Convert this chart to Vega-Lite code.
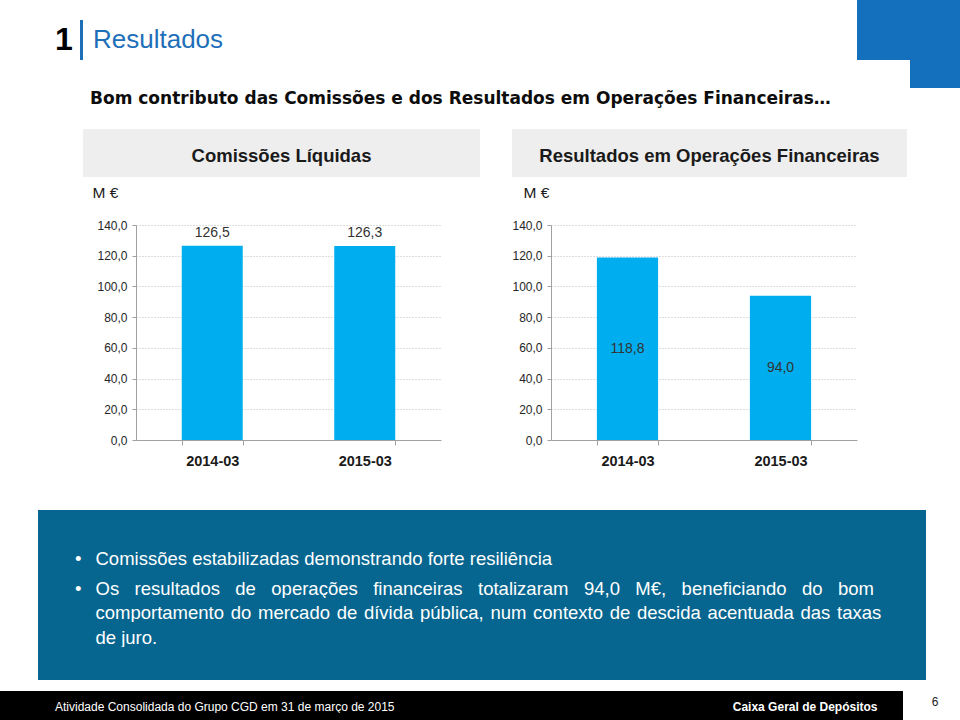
{
 "$schema": "https://vega.github.io/schema/vega-lite/v6.json",
 "background": "white",
 "padding": 0,
 "data": {"values": []},
 "columns": 12,
 "spacing": 0,
 "align": "each",
 "bounds": "flush",
 "config": {
  "view": {"stroke": null},
  "locale": {"number": {"decimal": ",", "thousands": ".", "grouping": [3], "currency": ["", " €"]}}
 },
 "concat": [
  {"width":1,"height":20,"mark":{"type":"text","text":""}},
  {"width":1,"height":1,"mark":{"type":"text","text":""}},
  {"width":1,"height":1,"mark":{"type":"text","text":""}},
  {"width":1,"height":1,"mark":{"type":"text","text":""}},
  {"width":1,"height":1,"mark":{"type":"text","text":""}},
  {"width":1,"height":1,"mark":{"type":"text","text":""}},
  {"width":1,"height":1,"mark":{"type":"text","text":""}},
  {"width":1,"height":1,"mark":{"type":"text","text":""}},
  {"width":1,"height":1,"mark":{"type":"text","text":""}},
  {"width":41,"height":20,"view":{"fill":"#1470BD"},"mark":{"type":"text","text":""}},
  {"width":12,"height":20,"view":{"fill":"#1470BD"},"mark":{"type":"text","text":""}},
  {"width":50,"height":20,"view":{"fill":"#1470BD"},"mark":{"type":"text","text":""}},

  {"width":1,"height":40,"mark":{"type":"text","text":""}},
  {"width":34,"height":40,"data":{"values":[{"t":"1"}]},"mark":{"type":"text","font":"Liberation Sans","fontSize":32,"fontWeight":"bold","color":"#000000","align":"left"},"encoding":{"text":{"field":"t"}}},
  {"width":1,"height":1,"mark":{"type":"text","text":""}},
  {"width":3,"height":40,"view":{"fill":"#1E6FB8"},"mark":{"type":"text","text":""}},
  {"width":20,"height":40,"data":{"values":[{"t":"Resultados"}]},"mark":{"type":"text","font":"Liberation Sans","fontSize":26,"color":"#1E6FB8","align":"left"},"encoding":{"text":{"field":"t"}}},
  {"width":1,"height":1,"mark":{"type":"text","text":""}},
  {"width":1,"height":1,"mark":{"type":"text","text":""}},
  {"width":1,"height":1,"mark":{"type":"text","text":""}},
  {"width":1,"height":1,"mark":{"type":"text","text":""}},
  {"width":41,"height":40,"view":{"fill":"#1470BD"},"mark":{"type":"text","text":""}},
  {"width":12,"height":40,"view":{"fill":"#1470BD"},"mark":{"type":"text","text":""}},
  {"width":50,"height":40,"view":{"fill":"#1470BD"},"mark":{"type":"text","text":""}},

  {"width":1,"height":28,"mark":{"type":"text","text":""}},
  {"width":1,"height":1,"mark":{"type":"text","text":""}},
  {"width":1,"height":1,"mark":{"type":"text","text":""}},
  {"width":1,"height":1,"mark":{"type":"text","text":""}},
  {"width":1,"height":1,"mark":{"type":"text","text":""}},
  {"width":1,"height":1,"mark":{"type":"text","text":""}},
  {"width":1,"height":1,"mark":{"type":"text","text":""}},
  {"width":1,"height":1,"mark":{"type":"text","text":""}},
  {"width":1,"height":1,"mark":{"type":"text","text":""}},
  {"width":1,"height":1,"mark":{"type":"text","text":""}},
  {"width":1,"height":1,"mark":{"type":"text","text":""}},
  {"width":50,"height":28,"view":{"fill":"#1470BD"},"mark":{"type":"text","text":""}},

  {"width":1,"height":22,"mark":{"type":"text","text":""}},
  {"width":1,"height":1,"mark":{"type":"text","text":""}},
  {"width":1,"height":1,"mark":{"type":"text","text":""}},
  {"width":1,"height":1,"mark":{"type":"text","text":""}},
  {"width":14,"height":22,"data":{"values":[{"t":"Bom contributo das Comissões e dos Resultados em Operações Financeiras…"}]},"mark":{"type":"text","font":"DejaVu Sans","fontSize":17,"fontWeight":"bold","color":"#0d0d0d","align":"left"},"encoding":{"text":{"field":"t"}}},
  {"width":1,"height":1,"mark":{"type":"text","text":""}},
  {"width":1,"height":1,"mark":{"type":"text","text":""}},
  {"width":1,"height":1,"mark":{"type":"text","text":""}},
  {"width":1,"height":1,"mark":{"type":"text","text":""}},
  {"width":1,"height":1,"mark":{"type":"text","text":""}},
  {"width":1,"height":1,"mark":{"type":"text","text":""}},
  {"width":1,"height":1,"mark":{"type":"text","text":""}},

  {"width":1,"height":19,"mark":{"type":"text","text":""}},
  {"width":1,"height":1,"mark":{"type":"text","text":""}},
  {"width":1,"height":1,"mark":{"type":"text","text":""}},
  {"width":1,"height":1,"mark":{"type":"text","text":""}},
  {"width":1,"height":1,"mark":{"type":"text","text":""}},
  {"width":1,"height":1,"mark":{"type":"text","text":""}},
  {"width":1,"height":1,"mark":{"type":"text","text":""}},
  {"width":1,"height":1,"mark":{"type":"text","text":""}},
  {"width":1,"height":1,"mark":{"type":"text","text":""}},
  {"width":1,"height":1,"mark":{"type":"text","text":""}},
  {"width":1,"height":1,"mark":{"type":"text","text":""}},
  {"width":1,"height":1,"mark":{"type":"text","text":""}},

  {"width":1,"height":36,"mark":{"type":"text","text":""}},
  {"width":1,"height":1,"mark":{"type":"text","text":""}},
  {"width":1,"height":1,"mark":{"type":"text","text":""}},
  {"width":1,"height":1,"mark":{"type":"text","text":""}},
  {"width":25,"height":36,"view":{"fill":"#EEEEEE"},"mark":{"type":"text","text":""}},
  {"width":28,"height":36,"view":{"fill":"#EEEEEE"},"mark":{"type":"text","text":""}},
  {"width":344,"height":36,"view":{"fill":"#EEEEEE"},"mark":{"type":"text","text":""}},
  {"width":39,"height":36,"view":{"fill":"#EEEEEE"},"mark":{"type":"text","text":""}},
  {"width":306,"height":36,"view":{"fill":"#EEEEEE"},"mark":{"type":"text","text":""}},
  {"width":41,"height":36,"view":{"fill":"#EEEEEE"},"mark":{"type":"text","text":""}},
  {"width":9,"height":36,"view":{"fill":"#EEEEEE"},"mark":{"type":"text","text":""}},
  {"width":1,"height":1,"mark":{"type":"text","text":""}},

  {"width":1,"height":1,"mark":{"type":"text","text":""}},
  {"width":1,"height":1,"mark":{"type":"text","text":""}},
  {"width":1,"height":1,"mark":{"type":"text","text":""}},
  {"width":1,"height":1,"mark":{"type":"text","text":""}},
  {"width":25,"height":1,"view":{"fill":"#EEEEEE"},"mark":{"type":"text","text":""}},
  {"width":28,"height":1,"view":{"fill":"#EEEEEE"},"mark":{"type":"text","text":""}},
  {"width":344,"height":1,"view":{"fill":"#EEEEEE"},"data":{"values":[{"t":"Comissões Líquidas"}]},"mark":{"type":"text","font":"Liberation Sans","fontSize":18.5,"fontWeight":"bold","color":"#1a1a1a","baseline":"bottom","dx":-26.5},"encoding":{"text":{"field":"t"}}},
  {"width":39,"height":1,"view":{"fill":"#EEEEEE"},"mark":{"type":"text","text":""}},
  {"width":306,"height":1,"view":{"fill":"#EEEEEE"},"data":{"values":[{"t":"Resultados em Operações Financeiras"}]},"mark":{"type":"text","font":"Liberation Sans","fontSize":18.5,"fontWeight":"bold","color":"#1a1a1a","baseline":"bottom","dx":5.5},"encoding":{"text":{"field":"t"}}},
  {"width":41,"height":1,"view":{"fill":"#EEEEEE"},"mark":{"type":"text","text":""}},
  {"width":9,"height":1,"view":{"fill":"#EEEEEE"},"mark":{"type":"text","text":""}},
  {"width":1,"height":1,"mark":{"type":"text","text":""}},

  {"width":1,"height":11,"mark":{"type":"text","text":""}},
  {"width":1,"height":1,"mark":{"type":"text","text":""}},
  {"width":1,"height":1,"mark":{"type":"text","text":""}},
  {"width":1,"height":1,"mark":{"type":"text","text":""}},
  {"width":25,"height":11,"view":{"fill":"#EEEEEE"},"mark":{"type":"text","text":""}},
  {"width":28,"height":11,"view":{"fill":"#EEEEEE"},"mark":{"type":"text","text":""}},
  {"width":344,"height":11,"view":{"fill":"#EEEEEE"},"mark":{"type":"text","text":""}},
  {"width":39,"height":11,"view":{"fill":"#EEEEEE"},"mark":{"type":"text","text":""}},
  {"width":306,"height":11,"view":{"fill":"#EEEEEE"},"mark":{"type":"text","text":""}},
  {"width":41,"height":11,"view":{"fill":"#EEEEEE"},"mark":{"type":"text","text":""}},
  {"width":9,"height":11,"view":{"fill":"#EEEEEE"},"mark":{"type":"text","text":""}},
  {"width":1,"height":1,"mark":{"type":"text","text":""}},

  {"width":1,"height":48,"mark":{"type":"text","text":""}},
  {"width":1,"height":1,"mark":{"type":"text","text":""}},
  {"width":1,"height":1,"mark":{"type":"text","text":""}},
  {"width":1,"height":1,"mark":{"type":"text","text":""}},
  {"width":1,"height":1,"mark":{"type":"text","text":""}},
  {"width":1,"height":1,"mark":{"type":"text","text":""}},
  {"width":1,"height":1,"mark":{"type":"text","text":""}},
  {"width":1,"height":1,"mark":{"type":"text","text":""}},
  {"width":1,"height":1,"mark":{"type":"text","text":""}},
  {"width":1,"height":1,"mark":{"type":"text","text":""}},
  {"width":1,"height":1,"mark":{"type":"text","text":""}},
  {"width":1,"height":1,"mark":{"type":"text","text":""}},

  {"width":1,"height":215,"mark":{"type":"text","text":""}},
  {"width":1,"height":1,"mark":{"type":"text","text":""}},
  {"width":1,"height":1,"mark":{"type":"text","text":""}},
  {"width":1,"height":1,"mark":{"type":"text","text":""}},
  {"width":1,"height":1,"mark":{"type":"text","text":""}},
  {"width":1,"height":1,"mark":{"type":"text","text":""}},
  {
   "width":305,"height":215,
   "data":{"values":[{"period":"2014-03","value":126.5},{"period":"2015-03","value":126.3}]},
   "encoding":{
    "x":{"field":"period","type":"nominal","scale":{"paddingInner":0.6,"paddingOuter":0.3},
     "axis":{"title":null,"labelAngle":0,"labelFont":"Liberation Sans","labelFontSize":14.5,"labelFontWeight":"bold","labelColor":"#1a1a1a","labelPadding":9,"tickBand":"extent","ticks":true,"tickSize":5,"tickColor":"#a0a0a0","domainColor":"#a0a0a0","grid":false}},
    "y":{"field":"value","type":"quantitative","scale":{"domain":[0,140],"nice":false},
     "axis":{"title":"M €","titleAngle":0,"titleAlign":"left","titleBaseline":"middle","titleX":-44,"titleY":-33,"titleFont":"Liberation Sans","titleFontSize":15.5,"titleFontWeight":"normal","titleColor":"#1a1a1a","labelFont":"Liberation Sans","labelFontSize":12,"labelColor":"#262626","labelPadding":5,"tickSize":4,"tickColor":"#a0a0a0","domainColor":"#a0a0a0","tickCount":7,"format":".1f","grid":true,"gridColor":"#bdbdbd","gridDash":[1,2]}}
   },
   "layer":[
    {"mark":{"type":"bar","color":"#00AEEF"}},
    {"mark":{"type":"text","dy":-13,"font":"Liberation Sans","fontSize":14,"color":"#333333"},"encoding":{"text":{"field":"value","type":"quantitative","format":".1f"}}}
   ]
  },
  {"width":1,"height":1,"mark":{"type":"text","text":""}},
  {
   "width":306,"height":215,
   "data":{"values":[{"period":"2014-03","value":118.8},{"period":"2015-03","value":94.0}]},
   "encoding":{
    "x":{"field":"period","type":"nominal","scale":{"paddingInner":0.6,"paddingOuter":0.3},
     "axis":{"title":null,"labelAngle":0,"labelFont":"Liberation Sans","labelFontSize":14.5,"labelFontWeight":"bold","labelColor":"#1a1a1a","labelPadding":9,"tickBand":"extent","ticks":true,"tickSize":5,"tickColor":"#a0a0a0","domainColor":"#a0a0a0","grid":false}}
   },
   "layer":[
    {"mark":{"type":"bar","color":"#00AEEF"},
     "encoding":{"y":{"field":"value","type":"quantitative","scale":{"domain":[0,140],"nice":false},
      "axis":{"title":"M €","titleAngle":0,"titleAlign":"left","titleBaseline":"middle","titleX":-28,"titleY":-33,"titleFont":"Liberation Sans","titleFontSize":15.5,"titleFontWeight":"normal","titleColor":"#1a1a1a","labelFont":"Liberation Sans","labelFontSize":12,"labelColor":"#262626","labelPadding":5,"tickSize":4,"tickColor":"#a0a0a0","domainColor":"#a0a0a0","tickCount":7,"format":".1f","grid":true,"gridColor":"#bdbdbd","gridDash":[1,2]}}}},
    {"mark":{"type":"text","font":"Liberation Sans","fontSize":14,"color":"#333333"},
     "encoding":{"y":{"field":"value","type":"quantitative","scale":{"domain":[0,280],"nice":false},"axis":null},
      "text":{"field":"value","type":"quantitative","format":".1f"}}}
   ],
   "resolve":{"scale":{"y":"independent"}}
  },
  {"width":1,"height":1,"mark":{"type":"text","text":""}},
  {"width":1,"height":1,"mark":{"type":"text","text":""}},
  {"width":1,"height":1,"mark":{"type":"text","text":""}},

  {"width":1,"height":70,"mark":{"type":"text","text":""}},
  {"width":1,"height":1,"mark":{"type":"text","text":""}},
  {"width":1,"height":1,"mark":{"type":"text","text":""}},
  {"width":1,"height":1,"mark":{"type":"text","text":""}},
  {"width":1,"height":1,"mark":{"type":"text","text":""}},
  {"width":1,"height":1,"mark":{"type":"text","text":""}},
  {"width":1,"height":1,"mark":{"type":"text","text":""}},
  {"width":1,"height":1,"mark":{"type":"text","text":""}},
  {"width":1,"height":1,"mark":{"type":"text","text":""}},
  {"width":1,"height":1,"mark":{"type":"text","text":""}},
  {"width":1,"height":1,"mark":{"type":"text","text":""}},
  {"width":1,"height":1,"mark":{"type":"text","text":""}},

  {"width":38,"height":58,"mark":{"type":"text","text":""}},
  {"width":34,"height":58,"view":{"fill":"#06668F"},"mark":{"type":"text","text":""}},
  {"width":8,"height":58,"view":{"fill":"#06668F"},"mark":{"type":"text","text":""}},
  {"width":3,"height":58,"view":{"fill":"#06668F"},"mark":{"type":"text","text":""}},
  {"width":25,"height":58,"view":{"fill":"#06668F"},"mark":{"type":"text","text":""}},
  {"width":28,"height":58,"view":{"fill":"#06668F"},"mark":{"type":"text","text":""}},
  {"width":376,"height":58,"view":{"fill":"#06668F"},"mark":{"type":"text","text":""}},
  {"width":39,"height":58,"view":{"fill":"#06668F"},"mark":{"type":"text","text":""}},
  {"width":306,"height":58,"view":{"fill":"#06668F"},"mark":{"type":"text","text":""}},
  {"width":41,"height":58,"view":{"fill":"#06668F"},"mark":{"type":"text","text":""}},
  {"width":12,"height":58,"view":{"fill":"#06668F"},"mark":{"type":"text","text":""}},
  {"width":16,"height":58,"view":{"fill":"#06668F"},"mark":{"type":"text","text":""}},

  {"width":1,"height":1,"mark":{"type":"text","text":""}},
  {"width":34,"height":1,"view":{"fill":"#06668F"},"mark":{"type":"text","text":""}},
  {"width":8,"height":1,"view":{"fill":"#06668F"},"mark":{"type":"text","text":""}},
  {"width":3,"height":1,"view":{"fill":"#06668F"},"data":{"values":[{"t":"•"}]},"mark":{"type":"text","font":"Liberation Sans","fontSize":18.5,"color":"#ffffff","align":"right","baseline":"bottom"},"encoding":{"text":{"field":"t"}}},
  {"width":25,"height":1,"view":{"fill":"#06668F"},"data":{"values":[{"t":"Comissões estabilizadas demonstrando forte resiliência"}]},"mark":{"type":"text","font":"Liberation Sans","fontSize":18.5,"color":"#ffffff","align":"left","baseline":"bottom"},"encoding":{"text":{"field":"t"}}},
  {"width":28,"height":1,"view":{"fill":"#06668F"},"mark":{"type":"text","text":""}},
  {"width":376,"height":1,"view":{"fill":"#06668F"},"mark":{"type":"text","text":""}},
  {"width":39,"height":1,"view":{"fill":"#06668F"},"mark":{"type":"text","text":""}},
  {"width":306,"height":1,"view":{"fill":"#06668F"},"mark":{"type":"text","text":""}},
  {"width":41,"height":1,"view":{"fill":"#06668F"},"mark":{"type":"text","text":""}},
  {"width":12,"height":1,"view":{"fill":"#06668F"},"mark":{"type":"text","text":""}},
  {"width":16,"height":1,"view":{"fill":"#06668F"},"mark":{"type":"text","text":""}},

  {"width":38,"height":29,"mark":{"type":"text","text":""}},
  {"width":34,"height":29,"view":{"fill":"#06668F"},"mark":{"type":"text","text":""}},
  {"width":8,"height":29,"view":{"fill":"#06668F"},"mark":{"type":"text","text":""}},
  {"width":3,"height":29,"view":{"fill":"#06668F"},"mark":{"type":"text","text":""}},
  {"width":25,"height":29,"view":{"fill":"#06668F"},"mark":{"type":"text","text":""}},
  {"width":28,"height":29,"view":{"fill":"#06668F"},"mark":{"type":"text","text":""}},
  {"width":376,"height":29,"view":{"fill":"#06668F"},"mark":{"type":"text","text":""}},
  {"width":39,"height":29,"view":{"fill":"#06668F"},"mark":{"type":"text","text":""}},
  {"width":306,"height":29,"view":{"fill":"#06668F"},"mark":{"type":"text","text":""}},
  {"width":41,"height":29,"view":{"fill":"#06668F"},"mark":{"type":"text","text":""}},
  {"width":12,"height":29,"view":{"fill":"#06668F"},"mark":{"type":"text","text":""}},
  {"width":16,"height":29,"view":{"fill":"#06668F"},"mark":{"type":"text","text":""}},

  {"width":1,"height":1,"mark":{"type":"text","text":""}},
  {"width":34,"height":1,"view":{"fill":"#06668F"},"mark":{"type":"text","text":""}},
  {"width":8,"height":1,"view":{"fill":"#06668F"},"mark":{"type":"text","text":""}},
  {"width":3,"height":1,"view":{"fill":"#06668F"},"data":{"values":[{"t":"•"}]},"mark":{"type":"text","font":"Liberation Sans","fontSize":18.5,"color":"#ffffff","align":"right","baseline":"bottom"},"encoding":{"text":{"field":"t"}}},
  {"width":25,"height":1,"view":{"fill":"#06668F"},"data":{"values":[{"t":"Os\u00a0\u00a0\u00a0resultados\u00a0\u00a0\u00a0de\u00a0\u00a0\u00a0operações\u00a0\u00a0\u00a0financeiras\u00a0\u00a0\u00a0totalizaram\u00a0\u00a0\u00a094,0\u00a0\u00a0\u00a0M€,\u00a0\u00a0\u00a0beneficiando\u00a0\u00a0\u00a0do\u00a0\u00a0\u00a0bom"}]},"mark":{"type":"text","font":"Liberation Sans","fontSize":18.5,"color":"#ffffff","align":"left","baseline":"bottom"},"encoding":{"text":{"field":"t"}}},
  {"width":28,"height":1,"view":{"fill":"#06668F"},"mark":{"type":"text","text":""}},
  {"width":376,"height":1,"view":{"fill":"#06668F"},"mark":{"type":"text","text":""}},
  {"width":39,"height":1,"view":{"fill":"#06668F"},"mark":{"type":"text","text":""}},
  {"width":306,"height":1,"view":{"fill":"#06668F"},"mark":{"type":"text","text":""}},
  {"width":41,"height":1,"view":{"fill":"#06668F"},"mark":{"type":"text","text":""}},
  {"width":12,"height":1,"view":{"fill":"#06668F"},"mark":{"type":"text","text":""}},
  {"width":16,"height":1,"view":{"fill":"#06668F"},"mark":{"type":"text","text":""}},

  {"width":38,"height":23,"mark":{"type":"text","text":""}},
  {"width":34,"height":23,"view":{"fill":"#06668F"},"mark":{"type":"text","text":""}},
  {"width":8,"height":23,"view":{"fill":"#06668F"},"mark":{"type":"text","text":""}},
  {"width":3,"height":23,"view":{"fill":"#06668F"},"mark":{"type":"text","text":""}},
  {"width":25,"height":23,"view":{"fill":"#06668F"},"mark":{"type":"text","text":""}},
  {"width":28,"height":23,"view":{"fill":"#06668F"},"mark":{"type":"text","text":""}},
  {"width":376,"height":23,"view":{"fill":"#06668F"},"mark":{"type":"text","text":""}},
  {"width":39,"height":23,"view":{"fill":"#06668F"},"mark":{"type":"text","text":""}},
  {"width":306,"height":23,"view":{"fill":"#06668F"},"mark":{"type":"text","text":""}},
  {"width":41,"height":23,"view":{"fill":"#06668F"},"mark":{"type":"text","text":""}},
  {"width":12,"height":23,"view":{"fill":"#06668F"},"mark":{"type":"text","text":""}},
  {"width":16,"height":23,"view":{"fill":"#06668F"},"mark":{"type":"text","text":""}},

  {"width":1,"height":1,"mark":{"type":"text","text":""}},
  {"width":34,"height":1,"view":{"fill":"#06668F"},"mark":{"type":"text","text":""}},
  {"width":8,"height":1,"view":{"fill":"#06668F"},"mark":{"type":"text","text":""}},
  {"width":3,"height":1,"view":{"fill":"#06668F"},"mark":{"type":"text","text":""}},
  {"width":25,"height":1,"view":{"fill":"#06668F"},"data":{"values":[{"t":"comportamento \u200ado \u200amercado \u200ade \u200adívida \u200apública, \u200anum \u200acontexto \u200ade \u200adescida \u200aacentuada \u200adas \u200ataxas"}]},"mark":{"type":"text","font":"Liberation Sans","fontSize":18.5,"color":"#ffffff","align":"left","baseline":"bottom"},"encoding":{"text":{"field":"t"}}},
  {"width":28,"height":1,"view":{"fill":"#06668F"},"mark":{"type":"text","text":""}},
  {"width":376,"height":1,"view":{"fill":"#06668F"},"mark":{"type":"text","text":""}},
  {"width":39,"height":1,"view":{"fill":"#06668F"},"mark":{"type":"text","text":""}},
  {"width":306,"height":1,"view":{"fill":"#06668F"},"mark":{"type":"text","text":""}},
  {"width":41,"height":1,"view":{"fill":"#06668F"},"mark":{"type":"text","text":""}},
  {"width":12,"height":1,"view":{"fill":"#06668F"},"mark":{"type":"text","text":""}},
  {"width":16,"height":1,"view":{"fill":"#06668F"},"mark":{"type":"text","text":""}},

  {"width":38,"height":24,"mark":{"type":"text","text":""}},
  {"width":34,"height":24,"view":{"fill":"#06668F"},"mark":{"type":"text","text":""}},
  {"width":8,"height":24,"view":{"fill":"#06668F"},"mark":{"type":"text","text":""}},
  {"width":3,"height":24,"view":{"fill":"#06668F"},"mark":{"type":"text","text":""}},
  {"width":25,"height":24,"view":{"fill":"#06668F"},"mark":{"type":"text","text":""}},
  {"width":28,"height":24,"view":{"fill":"#06668F"},"mark":{"type":"text","text":""}},
  {"width":376,"height":24,"view":{"fill":"#06668F"},"mark":{"type":"text","text":""}},
  {"width":39,"height":24,"view":{"fill":"#06668F"},"mark":{"type":"text","text":""}},
  {"width":306,"height":24,"view":{"fill":"#06668F"},"mark":{"type":"text","text":""}},
  {"width":41,"height":24,"view":{"fill":"#06668F"},"mark":{"type":"text","text":""}},
  {"width":12,"height":24,"view":{"fill":"#06668F"},"mark":{"type":"text","text":""}},
  {"width":16,"height":24,"view":{"fill":"#06668F"},"mark":{"type":"text","text":""}},

  {"width":1,"height":1,"mark":{"type":"text","text":""}},
  {"width":34,"height":1,"view":{"fill":"#06668F"},"mark":{"type":"text","text":""}},
  {"width":8,"height":1,"view":{"fill":"#06668F"},"mark":{"type":"text","text":""}},
  {"width":3,"height":1,"view":{"fill":"#06668F"},"mark":{"type":"text","text":""}},
  {"width":25,"height":1,"view":{"fill":"#06668F"},"data":{"values":[{"t":"de juro."}]},"mark":{"type":"text","font":"Liberation Sans","fontSize":18.5,"color":"#ffffff","align":"left","baseline":"bottom"},"encoding":{"text":{"field":"t"}}},
  {"width":28,"height":1,"view":{"fill":"#06668F"},"mark":{"type":"text","text":""}},
  {"width":376,"height":1,"view":{"fill":"#06668F"},"mark":{"type":"text","text":""}},
  {"width":39,"height":1,"view":{"fill":"#06668F"},"mark":{"type":"text","text":""}},
  {"width":306,"height":1,"view":{"fill":"#06668F"},"mark":{"type":"text","text":""}},
  {"width":41,"height":1,"view":{"fill":"#06668F"},"mark":{"type":"text","text":""}},
  {"width":12,"height":1,"view":{"fill":"#06668F"},"mark":{"type":"text","text":""}},
  {"width":16,"height":1,"view":{"fill":"#06668F"},"mark":{"type":"text","text":""}},

  {"width":38,"height":32,"mark":{"type":"text","text":""}},
  {"width":34,"height":32,"view":{"fill":"#06668F"},"mark":{"type":"text","text":""}},
  {"width":8,"height":32,"view":{"fill":"#06668F"},"mark":{"type":"text","text":""}},
  {"width":3,"height":32,"view":{"fill":"#06668F"},"mark":{"type":"text","text":""}},
  {"width":25,"height":32,"view":{"fill":"#06668F"},"mark":{"type":"text","text":""}},
  {"width":28,"height":32,"view":{"fill":"#06668F"},"mark":{"type":"text","text":""}},
  {"width":376,"height":32,"view":{"fill":"#06668F"},"mark":{"type":"text","text":""}},
  {"width":39,"height":32,"view":{"fill":"#06668F"},"mark":{"type":"text","text":""}},
  {"width":306,"height":32,"view":{"fill":"#06668F"},"mark":{"type":"text","text":""}},
  {"width":41,"height":32,"view":{"fill":"#06668F"},"mark":{"type":"text","text":""}},
  {"width":12,"height":32,"view":{"fill":"#06668F"},"mark":{"type":"text","text":""}},
  {"width":16,"height":32,"view":{"fill":"#06668F"},"mark":{"type":"text","text":""}},

  {"width":1,"height":11,"mark":{"type":"text","text":""}},
  {"width":1,"height":1,"mark":{"type":"text","text":""}},
  {"width":1,"height":1,"mark":{"type":"text","text":""}},
  {"width":1,"height":1,"mark":{"type":"text","text":""}},
  {"width":1,"height":1,"mark":{"type":"text","text":""}},
  {"width":1,"height":1,"mark":{"type":"text","text":""}},
  {"width":1,"height":1,"mark":{"type":"text","text":""}},
  {"width":1,"height":1,"mark":{"type":"text","text":""}},
  {"width":1,"height":1,"mark":{"type":"text","text":""}},
  {"width":1,"height":1,"mark":{"type":"text","text":""}},
  {"width":1,"height":1,"mark":{"type":"text","text":""}},
  {"width":1,"height":1,"mark":{"type":"text","text":""}},

  {"width":38,"height":22,"view":{"fill":"#000000"},"mark":{"type":"text","text":""}},
  {"width":34,"height":22,"view":{"fill":"#000000"},"mark":{"type":"text","text":""}},
  {"width":8,"height":22,"view":{"fill":"#000000"},"mark":{"type":"text","text":""}},
  {"width":3,"height":22,"view":{"fill":"#000000"},"mark":{"type":"text","text":""}},
  {"width":25,"height":22,"view":{"fill":"#000000"},"mark":{"type":"text","text":""}},
  {"width":28,"height":22,"view":{"fill":"#000000"},"mark":{"type":"text","text":""}},
  {"width":376,"height":22,"view":{"fill":"#000000"},"mark":{"type":"text","text":""}},
  {"width":39,"height":22,"view":{"fill":"#000000"},"mark":{"type":"text","text":""}},
  {"width":306,"height":22,"view":{"fill":"#000000"},"mark":{"type":"text","text":""}},
  {"width":41,"height":22,"view":{"fill":"#000000"},"mark":{"type":"text","text":""}},
  {"width":5,"height":22,"view":{"fill":"#000000"},"mark":{"type":"text","text":""}},
  {"width":50,"height":22,"data":{"values":[{"t":"6"}]},"mark":{"type":"text","font":"Liberation Sans","fontSize":12,"color":"#1a1a1a"},"encoding":{"text":{"field":"t"}}},

  {"width":38,"height":1,"view":{"fill":"#000000"},"mark":{"type":"text","text":""}},
  {"width":34,"height":1,"view":{"fill":"#000000"},"data":{"values":[{"t":"Atividade Consolidada do Grupo CGD em 31 de março de 2015"}]},"mark":{"type":"text","font":"Liberation Sans","fontSize":12,"color":"#ffffff","align":"left","baseline":"bottom"},"encoding":{"text":{"field":"t"}}},
  {"width":8,"height":1,"view":{"fill":"#000000"},"mark":{"type":"text","text":""}},
  {"width":3,"height":1,"view":{"fill":"#000000"},"mark":{"type":"text","text":""}},
  {"width":25,"height":1,"view":{"fill":"#000000"},"mark":{"type":"text","text":""}},
  {"width":28,"height":1,"view":{"fill":"#000000"},"mark":{"type":"text","text":""}},
  {"width":376,"height":1,"view":{"fill":"#000000"},"mark":{"type":"text","text":""}},
  {"width":39,"height":1,"view":{"fill":"#000000"},"mark":{"type":"text","text":""}},
  {"width":306,"height":1,"view":{"fill":"#000000"},"mark":{"type":"text","text":""}},
  {"width":41,"height":1,"view":{"fill":"#000000"},"data":{"values":[{"t":"Caixa Geral de Depósitos"}]},"mark":{"type":"text","font":"Liberation Sans","fontSize":12,"fontWeight":"bold","color":"#ffffff","align":"right","baseline":"bottom"},"encoding":{"text":{"field":"t"}}},
  {"width":5,"height":1,"view":{"fill":"#000000"},"mark":{"type":"text","text":""}},
  {"width":1,"height":1,"mark":{"type":"text","text":""}},

  {"width":38,"height":6,"view":{"fill":"#000000"},"mark":{"type":"text","text":""}},
  {"width":34,"height":6,"view":{"fill":"#000000"},"mark":{"type":"text","text":""}},
  {"width":8,"height":6,"view":{"fill":"#000000"},"mark":{"type":"text","text":""}},
  {"width":3,"height":6,"view":{"fill":"#000000"},"mark":{"type":"text","text":""}},
  {"width":25,"height":6,"view":{"fill":"#000000"},"mark":{"type":"text","text":""}},
  {"width":28,"height":6,"view":{"fill":"#000000"},"mark":{"type":"text","text":""}},
  {"width":376,"height":6,"view":{"fill":"#000000"},"mark":{"type":"text","text":""}},
  {"width":39,"height":6,"view":{"fill":"#000000"},"mark":{"type":"text","text":""}},
  {"width":306,"height":6,"view":{"fill":"#000000"},"mark":{"type":"text","text":""}},
  {"width":41,"height":6,"view":{"fill":"#000000"},"mark":{"type":"text","text":""}},
  {"width":5,"height":6,"view":{"fill":"#000000"},"mark":{"type":"text","text":""}},
  {"width":1,"height":1,"mark":{"type":"text","text":""}}
 ]
}
